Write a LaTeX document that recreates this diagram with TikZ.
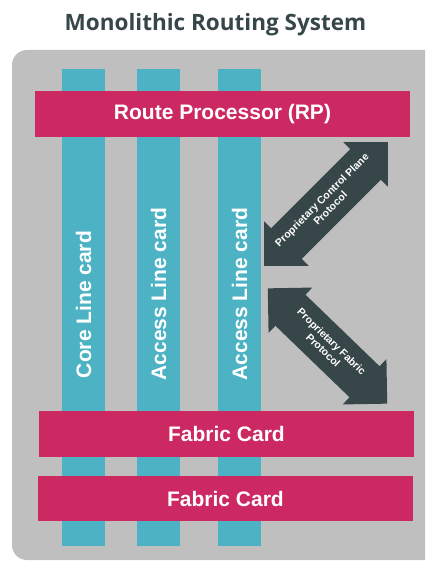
\documentclass[tikz,border=0pt]{standalone}
\usepackage{fontspec}
\setmainfont{Liberation Sans}
\newfontfamily\titlefont{Open Sans}
\usepackage{tikz}
\usetikzlibrary{shapes}
\definecolor{chassisgrey}{HTML}{BFBFBF}
\definecolor{cardteal}{HTML}{4DB3C4}
\definecolor{cardred}{HTML}{CC2862}
\definecolor{slate}{HTML}{374649}
\tikzstyle{linecard} = [rectangle, fill=cardteal, minimum width=43pt, minimum height=477pt, inner sep=0pt]
\tikzstyle{cardlabel} = [text=white, font=\fontsize{21}{24}\selectfont\bfseries, rotate=90]
\tikzstyle{bar} = [rectangle, fill=cardred, text=white, minimum width=375pt, font=\fontsize{21}{24}\selectfont\bfseries]
\tikzstyle{proto} = [double arrow, fill=slate, text=white, double arrow tip angle=90, minimum width=63pt, inner xsep=2pt, inner ysep=5.5pt, align=center, font=\fontsize{10.5}{12}\selectfont\bfseries]

\begin{document}
\begin{tikzpicture}[x=1pt, y=-1pt]
   \useasboundingbox (0,0) rectangle (425,561);
   \node[text=slate, font=\titlefont\fontsize{22.5}{26}\selectfont\bfseries] (title) at (215.5,25) {Monolithic Routing System};
   \begin{scope}
     \clip (0,0) rectangle (425,561);
     \fill[chassisgrey, rounded corners=15pt] (12,50) rectangle (445,560);
   \end{scope}
   % line cards
   \node[linecard] (core)    at (83.5,307.5)  {};
   \node[linecard] (access1) at (158.5,307.5) {};
   \node[linecard] (access2) at (239.5,307.5) {};
   \node[cardlabel] (corelbl)    at (83.5,304.5) {Core Line card};
   \node[cardlabel] (access1lbl) at (158.5,294) {Access Line card};
   \node[cardlabel] (access2lbl) at (239.5,294) {Access Line card};
   % route processor and fabric
   \node[bar, minimum height=46pt] (rp)      at (222.5,114) {Route Processor (RP)};
   \node[bar, minimum height=46pt] (fabric1) at (226.5,434) {Fabric Card};
   \node[bar, minimum height=45pt] (fabric2) at (225.5,498.5) {Fabric Card};
   % protocols
   \node[proto, rotate=45, minimum height=172pt]  (cpp) at (326,204) {Proprietary Control Plane\\Protocol};
   \node[proto, rotate=-44, minimum height=166pt] (pfp) at (327.5,346) {Proprietary Fabric\\Protocol};
\end{tikzpicture}
\end{document}
